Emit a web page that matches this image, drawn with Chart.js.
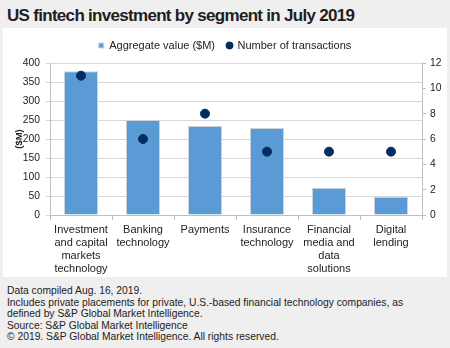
<!DOCTYPE html>
<html>
<head>
<meta charset="utf-8">
<script src="https://cdn.jsdelivr.net/npm/chart.js@4.4.1/dist/chart.umd.min.js"></script>
<style>
  html, body { margin: 0; padding: 0; }
  body {
    width: 450px; height: 348px; background: #efefef; position: relative; overflow: hidden;
    font-family: "Liberation Sans", Arial, sans-serif; color: #222;
  }
  #title {
    position: absolute; left: 7px; top: 6px; font-size: 17px; font-weight: bold; color: #1e1e1e;
    letter-spacing: -0.7px; white-space: nowrap;
  }
  #panel { position: absolute; left: 3px; top: 28px; width: 444px; height: 249px; background: #fff; }
  #notes {
    position: absolute; left: 7px; top: 285px; font-size: 10.3px; line-height: 11.6px; color: #222;
    white-space: nowrap;
  }
</style>
</head>
<body>
<div id="title">US fintech investment by segment in July 2019</div>
<div id="panel"><canvas id="segChart" width="444" height="249"></canvas></div>
<div id="notes">
  Data compiled Aug. 16, 2019.<br>
  Includes private placements for private, U.S.-based financial technology companies, as<br>
  defined by S&amp;P Global Market Intelligence.<br>
  Source: S&amp;P Global Market Intelligence<br>
  © 2019. S&amp;P Global Market Intelligence. All rights reserved.
</div>
<script>
const segments = [
  ['Investment', 'and capital', 'markets', 'technology'],
  ['Banking', 'technology'],
  ['Payments'],
  ['Insurance', 'technology'],
  ['Financial', 'media and', 'data', 'solutions'],
  ['Digital', 'lending']
];
const aggregateValue = [378, 250, 234, 229, 72, 48];   // $M
const transactions = [11, 6, 8, 5, 5, 5];

const BAR_BLUE = '#5b9bd5';
const DOT_NAVY = '#002d62';
const GRID = '#d9d9d9';
const AXIS = '#bfbfbf';
const TEXT = '#222222';
const tickFont = { family: 'Liberation Sans', size: 11 };
const valueTickFont = { family: 'Liberation Sans', size: 10.3 };

// leave a little room between the legend and the plot
const legendSpacer = {
  id: 'legendSpacer',
  beforeUpdate(chart) {
    const lg = chart.legend;
    if (!lg || lg._spaced) return;
    const fit = lg.fit.bind(lg);
    lg.fit = function () { fit(); this.height += 2; };
    lg._spaced = true;
  }
};

const ctx = document.getElementById('segChart').getContext('2d');

new Chart(ctx, {
  data: {
    labels: segments,
    datasets: [
      {
        type: 'bar',
        label: 'Aggregate value ($M)',
        data: aggregateValue,
        backgroundColor: BAR_BLUE,
        borderColor: '#ccd3da',
        borderWidth: 1,
        categoryPercentage: 1,
        barPercentage: 0.55,
        pointStyle: 'rect',
        yAxisID: 'y',
        order: 2
      },
      {
        type: 'line',
        label: 'Number of transactions',
        data: transactions,
        showLine: false,
        pointRadius: 4.5,
        pointBackgroundColor: DOT_NAVY,
        pointBorderColor: DOT_NAVY,
        backgroundColor: DOT_NAVY,
        borderColor: DOT_NAVY,
        pointStyle: 'circle',
        yAxisID: 'y1',
        order: 1
      }
    ]
  },
  plugins: [legendSpacer],
  options: {
    responsive: false,
    animation: false,
    layout: { padding: { top: 0, left: 0, right: 0, bottom: 0 } },
    plugins: {
      tooltip: { enabled: false },
      legend: {
        position: 'top',
        labels: {
          usePointStyle: true,
          boxWidth: 5,
          boxHeight: 5,
          padding: 12,
          color: TEXT,
          font: { family: 'Liberation Sans', size: 11 },
          sort: (a, b) => a.datasetIndex - b.datasetIndex
        }
      }
    },
    scales: {
      x: {
        offset: true,
        grid: {
          offset: true,
          drawOnChartArea: false,
          color: AXIS,
          tickLength: 5
        },
        border: { color: AXIS },
        ticks: { color: TEXT, font: tickFont, maxRotation: 0, autoSkip: false, padding: 3 },
        afterFit: (scale) => { scale.height = 62; }
      },
      y: {
        position: 'left',
        min: 0,
        max: 400,
        ticks: { stepSize: 50, color: TEXT, font: valueTickFont, padding: 6 },
        grid: { color: GRID, tickLength: 4 },
        border: { color: AXIS },
        title: {
          display: true,
          text: '($M)',
          color: TEXT,
          font: { family: 'Liberation Sans', size: 9.5, weight: 'bold' },
          padding: { top: 11, bottom: 0 }
        },
        afterFit: (scale) => { scale.width = 47; }
      },
      y1: {
        position: 'right',
        min: 0,
        max: 12,
        ticks: { stepSize: 2, color: TEXT, font: valueTickFont, padding: 4 },
        grid: { drawOnChartArea: false, color: AXIS, tickLength: 4 },
        border: { color: AXIS },
        afterFit: (scale) => { scale.width = 25; }
      }
    }
  }
});
</script>
</body>
</html>
